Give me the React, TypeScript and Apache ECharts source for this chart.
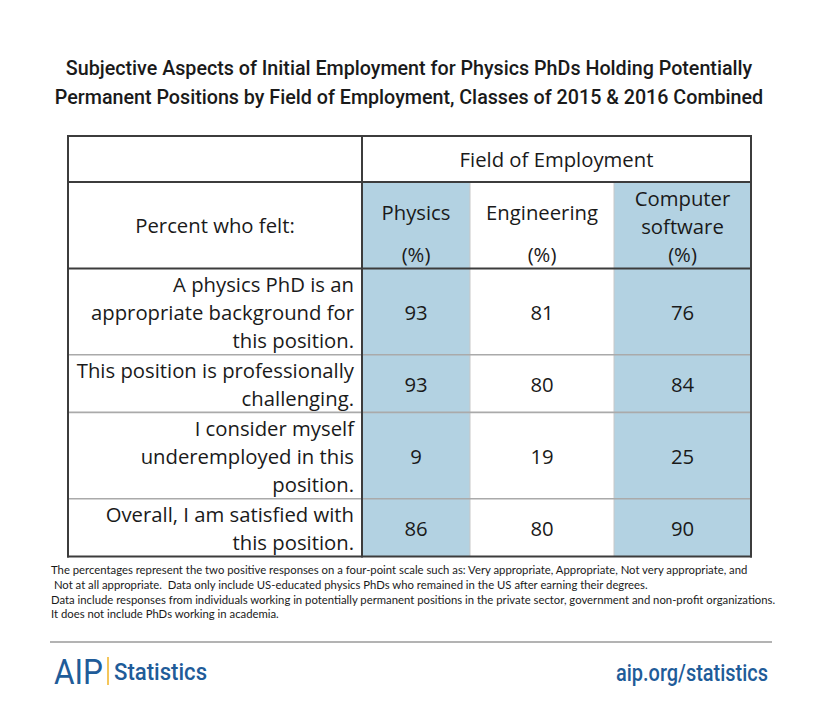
import React, { useEffect, useRef } from "react";
import * as echarts from "echarts";

// ---------- data ----------
const titleLines = [
  "Subjective Aspects of Initial Employment for Physics PhDs Holding Potentially",
  "Permanent Positions by Field of Employment, Classes of 2015 & 2016 Combined",
];
const groupHeader = "Field of Employment";
const stubHeader = "Percent who felt:";
const fields = ["Physics", "Engineering", "Computer software"];
const fieldHeaderLines = [
  ["Physics", "(%)"],
  ["Engineering", "(%)"],
  ["Computer", "software", "(%)"],
];
const questions = [
  ["A physics PhD is an", "appropriate background for", "this position."],
  ["This position is professionally", "challenging."],
  ["I consider myself", "underemployed in this", "position."],
  ["Overall, I am satisfied with", "this position."],
];
const physicsPct = [93, 93, 9, 86];
const engineeringPct = [81, 80, 19, 80];
const computerPct = [76, 84, 25, 90];
const footnoteLines = [
  "The percentages represent the two positive responses on a four-point scale such as: Very appropriate, Appropriate, Not very appropriate, and",
  " Not at all appropriate.  Data only include US-educated physics PhDs who remained in the US after earning their degrees.",
  "Data include responses from individuals working in potentially permanent positions in the private sector, government and non-profit organizations.",
  "It does not include PhDs working in academia.",
];
const brandLeft = "AIP";
const brandRight = "Statistics";
const siteUrl = "aip.org/statistics";

// ---------- layout / style ----------
const W = 820;
const H = 720;
const TABLE_LEFT = 68;
const TABLE_TOP = 136;
const COL_WIDTHS = [294, 108, 144, 137];
const GROUP_ROW_H = 46;
const LINE_H = 28.8;
const TEXT_STEP = 28;
const SHADED = [true, false, true];
const BLUE = "#b3d2e2";
const INK = "#1a1a1a";
const BRAND = "#1f5c99";
const TABLE_FONT = "'Open Sans'";
const NOTE_FONT = "Lato";
const COND_FONT = "Roboto";

const fieldValues = [physicsPct, engineeringPct, computerPct];

const cum = (arr: number[]) => {
  const out = [0];
  arr.forEach((v) => out.push(out[out.length - 1] + v));
  return out;
};

const colEdges = cum(COL_WIDTHS);
const headerLinesMax = Math.max(...fieldHeaderLines.map((l) => l.length));
const rowHeights = [
  GROUP_ROW_H,
  headerLinesMax * LINE_H,
  ...questions.map((q) => q.length * LINE_H),
];
const rowEdges = cum(rowHeights);
const TABLE_W = colEdges[colEdges.length - 1];
const TABLE_H = rowEdges[rowEdges.length - 1];

type Cell = {
  c0: number;
  c1: number;
  r0: number;
  r1: number;
  fill: string;
  lines: string[];
  mode: "center" | "right" | "field";
};

const cells: Cell[] = [];
cells.push({ c0: 0, c1: 1, r0: 0, r1: 1, fill: "#ffffff", lines: [], mode: "center" });
cells.push({ c0: 1, c1: 4, r0: 0, r1: 1, fill: "#ffffff", lines: [groupHeader], mode: "center" });
cells.push({ c0: 0, c1: 1, r0: 1, r1: 2, fill: "#ffffff", lines: [stubHeader], mode: "center" });
fields.forEach((f, i) => {
  cells.push({
    c0: i + 1,
    c1: i + 2,
    r0: 1,
    r1: 2,
    fill: SHADED[i] ? BLUE : "#ffffff",
    lines: fieldHeaderLines[i],
    mode: "field",
  });
});
questions.forEach((q, r) => {
  cells.push({ c0: 0, c1: 1, r0: r + 2, r1: r + 3, fill: "#ffffff", lines: q, mode: "right" });
  fieldValues.forEach((vals, i) => {
    cells.push({
      c0: i + 1,
      c1: i + 2,
      r0: r + 2,
      r1: r + 3,
      fill: SHADED[i] ? BLUE : "#ffffff",
      lines: [String(vals[r])],
      mode: "center",
    });
  });
});

const cellData = cells.map((c) => [colEdges[c.c0], rowEdges[c.r0], colEdges[c.c1], rowEdges[c.r1]]);

// grid lines: kind 0 = light vertical, 1 = gray horizontal, 2 = dark
const lineData: number[][] = [];
for (let c = 2; c < colEdges.length - 1; c++) lineData.push([colEdges[c], rowEdges[1], colEdges[c], TABLE_H, 0]);
for (let r = 3; r < rowEdges.length - 1; r++) lineData.push([0, rowEdges[r], TABLE_W, rowEdges[r], 1]);
lineData.push([0, rowEdges[1], TABLE_W, rowEdges[1], 2]);
lineData.push([0, rowEdges[2], TABLE_W, rowEdges[2], 2]);
lineData.push([colEdges[1], 0, colEdges[1], TABLE_H, 2]);
lineData.push([0, 0, TABLE_W, 0, 2]);
lineData.push([0, TABLE_H, TABLE_W, TABLE_H, 2]);
lineData.push([0, 0, 0, TABLE_H, 2]);
lineData.push([TABLE_W, 0, TABLE_W, TABLE_H, 2]);

const LINE_STYLES = [
  { stroke: "#c8c8c8", lineWidth: 1 },
  { stroke: "#aaaaaa", lineWidth: 1.6 },
  { stroke: "#3c3c3c", lineWidth: 2, lineCap: "square" },
];

let measureCtx: CanvasRenderingContext2D | null = null;
const measure = (text: string, font: string) => {
  if (!measureCtx) measureCtx = document.createElement("canvas").getContext("2d");
  if (!measureCtx) return text.length * 8;
  measureCtx.font = font;
  return measureCtx.measureText(text).width;
};

const txt = (
  text: string,
  x: number,
  y: number,
  size: number,
  family: string,
  fill: string,
  align: string,
  weight: string | number = "normal"
) => ({
  type: "text",
  x,
  y,
  silent: true,
  style: {
    text,
    fill,
    fontSize: size,
    fontFamily: family,
    fontWeight: weight,
    align,
    verticalAlign: "middle",
  },
});

export default function App() {
  const ref = useRef<HTMLDivElement>(null);

  useEffect(() => {
    document.body.style.margin = "0";
    const el = ref.current;
    if (!el) return;
    const chart = echarts.init(el, null, { renderer: "svg" });

    // table font size fitted to the reference width of one label line
    const tableSize = Math.round(
      (19 * 277) / measure("This position is professionally", `normal 19px ${TABLE_FONT}`) * 10
    ) / 10;

    // condensed texts: fit with horizontal scale
    const titleSize = 21;
    const titleFont = `500 ${titleSize}px ${COND_FONT}`;
    const titleScale = 687 / measure(titleLines[0], titleFont);

    const noteSize = 10.5;
    const noteFont = `normal ${noteSize}px ${NOTE_FONT}`;
    const noteScale = 726 / measure(footnoteLines[2], noteFont);

    const aipSize = 36;
    const aipScale = 49 / measure(brandLeft, `normal ${aipSize}px ${COND_FONT}`);
    const statSize = 24;
    const statScale = 93 / measure(brandRight, `500 ${statSize}px ${COND_FONT}`);
    const urlSize = 24;
    const urlScale = 152 / measure(siteUrl, `500 ${urlSize}px ${COND_FONT}`);

    const option: any = {
      animation: false,
      backgroundColor: "#ffffff",
      grid: { left: TABLE_LEFT, top: TABLE_TOP, width: TABLE_W, height: TABLE_H },
      xAxis: { type: "value", min: 0, max: TABLE_W, show: false },
      yAxis: { type: "value", min: 0, max: TABLE_H, inverse: true, show: false },
      series: [
        {
          type: "custom",
          silent: true,
          coordinateSystem: "cartesian2d",
          encode: { x: [0, 2], y: [1, 3] },
          data: cellData,
          renderItem: (params: any, api: any) => {
            const c = cells[params.dataIndex];
            const p0 = api.coord([api.value(0), api.value(1)]);
            const p1 = api.coord([api.value(2), api.value(3)]);
            const children: any[] = [
              {
                type: "rect",
                shape: { x: p0[0], y: p0[1], width: p1[0] - p0[0], height: p1[1] - p0[1] },
                style: { fill: c.fill },
              },
            ];
            const cx = (p0[0] + p1[0]) / 2;
            const cy = (p0[1] + p1[1]) / 2;
            const n = c.lines.length;
            if (c.mode === "field") {
              const bottom = p1[1] - 14.4;
              const step = n === 2 ? 42 : TEXT_STEP;
              c.lines.forEach((t, i) => {
                children.push(txt(t, cx, bottom - (n - 1 - i) * step, tableSize, TABLE_FONT, INK, "center"));
              });
            } else {
              const x = c.mode === "right" ? p1[0] - 8 : cx;
              const align = c.mode === "right" ? "right" : "center";
              c.lines.forEach((t, i) => {
                children.push(txt(t, x, cy + (i - (n - 1) / 2) * TEXT_STEP, tableSize, TABLE_FONT, INK, align));
              });
            }
            return { type: "group", children };
          },
        },
        {
          type: "custom",
          silent: true,
          coordinateSystem: "cartesian2d",
          encode: { x: [0, 2], y: [1, 3] },
          data: lineData,
          renderItem: (_params: any, api: any) => {
            const a = api.coord([api.value(0), api.value(1)]);
            const b = api.coord([api.value(2), api.value(3)]);
            const st = LINE_STYLES[api.value(4)];
            return {
              type: "line",
              shape: { x1: a[0], y1: a[1], x2: b[0], y2: b[1] },
              style: { ...st },
            };
          },
        },
      ],
      graphic: [
        {
          type: "group",
          x: 409,
          y: 0,
          scaleX: titleScale,
          children: titleLines.map((t, i) => txt(t, 0, 68 + i * 29, titleSize, COND_FONT, INK, "center", 500)),
        },
        {
          type: "group",
          x: 51,
          y: 0,
          scaleX: noteScale,
          children: footnoteLines.map((t, i) => txt(t, 0, 570 + i * 14.7, noteSize, NOTE_FONT, INK, "left")),
        },
        {
          type: "line",
          shape: { x1: 50, y1: 642, x2: 772, y2: 642 },
          style: { stroke: "#b3b3b3", lineWidth: 2 },
        },
        {
          type: "group",
          x: 54,
          y: 0,
          scaleX: aipScale,
          children: [txt(brandLeft, 0, 672, aipSize, COND_FONT, BRAND, "left")],
        },
        {
          type: "line",
          shape: { x1: 108, y1: 657, x2: 108, y2: 685 },
          style: { stroke: "#f0b323", lineWidth: 1.5 },
        },
        {
          type: "group",
          x: 114,
          y: 0,
          scaleX: statScale,
          children: [txt(brandRight, 0, 672, statSize, COND_FONT, BRAND, "left", 500)],
        },
        {
          type: "group",
          x: 768,
          y: 0,
          scaleX: urlScale,
          children: [txt(siteUrl, 0, 673, urlSize, COND_FONT, BRAND, "right", 500)],
        },
      ],
    };

    chart.setOption(option);
    return () => chart.dispose();
  }, []);

  return <div ref={ref} style={{ width: W, height: H }} />;
}
